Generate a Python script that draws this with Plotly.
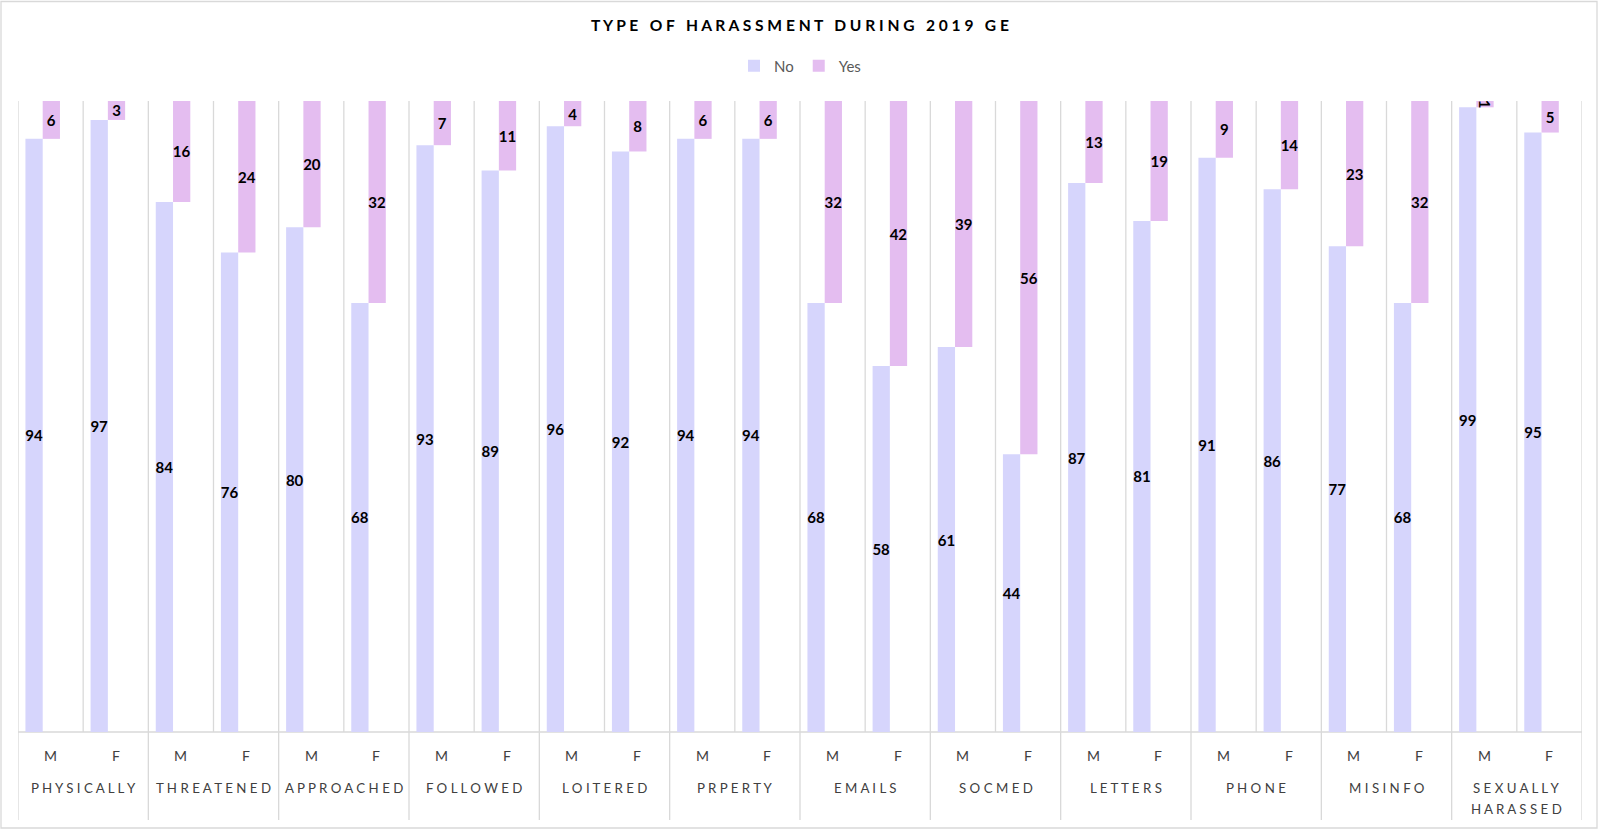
import plotly.graph_objects as go

groups = ["PHYSICALLY", "THREATENED", "APPROACHED", "FOLLOWED", "LOITERED", "PRPERTY",
          "EMAILS", "SOCMED", "LETTERS", "PHONE", "MISINFO", "SEXUALLY HARASSED"]
genders = ["M", "F"]
no_vals = [94, 97, 84, 76, 80, 68, 93, 89, 96, 92, 94, 94,
           68, 58, 61, 44, 87, 81, 91, 86, 77, 68, 99, 95]
yes_vals = [6, 3, 16, 24, 20, 32, 7, 11, 4, 8, 6, 6,
            32, 42, 39, 56, 13, 19, 9, 14, 23, 32, 1, 5]
total = 100

n = len(no_vals)
xs = list(range(n))
yes_base = [total - v for v in yes_vals]

NO_COLOR = "#d6d5fc"
YES_COLOR = "#e4bdf0"
GRID = "#d9d9d9"
FONT = "Lato"

W, H = 1600, 830
ML, MR, MT, MB = 18, 18, 101, 98
PH = H - MT - MB


def spaced(s):
    return " ".join(list(s)).replace("   ", "\u00a0\u00a0\u00a0")


def py(px):
    # pixel y (from top) -> paper y
    return (H - MB - px) / PH


fig = go.Figure()
fig.add_trace(go.Bar(
    name="No", x=xs, y=no_vals, width=0.265, offset=-0.386,
    marker=dict(color=NO_COLOR, line=dict(width=0)),
    text=no_vals, textposition="inside", insidetextanchor="middle",
    textfont=dict(family=FONT, size=15, color="#000000", weight="bold"),
    hoverinfo="y",
))
fig.add_trace(go.Bar(
    name="Yes", x=xs, y=yes_vals, base=yes_base, width=0.265, offset=-0.121,
    marker=dict(color=YES_COLOR, line=dict(width=0)),
    text=yes_vals, textposition="inside", insidetextanchor="middle",
    textfont=dict(family=FONT, size=15, color="#000000", weight="bold"),
    hoverinfo="y",
))

shapes = []
annotations = []
# category boundary lines
for i in range(n + 1):
    xb = i - 0.5
    is_group = (i % 2 == 0)
    shapes.append(dict(type="line", xref="x", yref="paper", x0=xb, x1=xb,
                       y0=py(820) if is_group else 0, y1=1,
                       line=dict(color=GRID, width=1.3), layer="below"))
# axis line
shapes.append(dict(type="line", xref="x", yref="paper", x0=-0.5, x1=n - 0.5,
                   y0=0, y1=0, line=dict(color=GRID, width=1.3), layer="below"))
# chart border
shapes.append(dict(type="rect", xref="paper", yref="paper",
                   x0=(1 - ML) / (W - ML - MR), x1=(W - 3 - ML) / (W - ML - MR),
                   y0=py(828), y1=py(1.5),
                   line=dict(color=GRID, width=1.3), fillcolor="rgba(0,0,0,0)"))

for i in xs:
    annotations.append(dict(x=i, xref="x", y=py(755), yref="paper",
                            text=genders[i % 2], showarrow=False,
                            font=dict(family=FONT, size=14, color="#404040"),
                            xanchor="center", yanchor="middle"))
for g, name in enumerate(groups):
    for k, line in enumerate(name.split(" ")):
        annotations.append(dict(x=2 * g + 0.5, xref="x", y=py(788 + 21 * k), yref="paper",
                                text=spaced(line), showarrow=False,
                                font=dict(family=FONT, size=13.3, color="#404040"),
                                xanchor="center", yanchor="middle"))

fig.update_layout(
    width=W, height=H,
    margin=dict(l=ML, r=MR, t=MT, b=MB),
    paper_bgcolor="white", plot_bgcolor="white",
    barmode="overlay",
    title=dict(text=spaced("TYPE OF HARASSMENT DURING 2019 GE"),
               x=0.5, xanchor="center", y=1 - 26 / H, yanchor="middle",
               font=dict(family=FONT, size=15.6, color="#000000", weight="bold")),
    legend=dict(orientation="h", x=0.5, xanchor="center", y=py(66), yanchor="middle",
                font=dict(family=FONT, size=15, color="#595959"),
                itemwidth=30, traceorder="normal"),
    xaxis=dict(range=[-0.5, n - 0.5], showticklabels=False, showgrid=False,
               zeroline=False, showline=False, fixedrange=True),
    yaxis=dict(range=[0, total], showticklabels=False, showgrid=False,
               zeroline=False, showline=False, fixedrange=True),
    uniformtext=dict(minsize=15, mode="show"),
    shapes=shapes, annotations=annotations,
    showlegend=True,
)

fig.write_html("out.html", config={"displayModeBar": False},
               post_script="document.body.style.margin='0';document.body.style.overflow='hidden';")
